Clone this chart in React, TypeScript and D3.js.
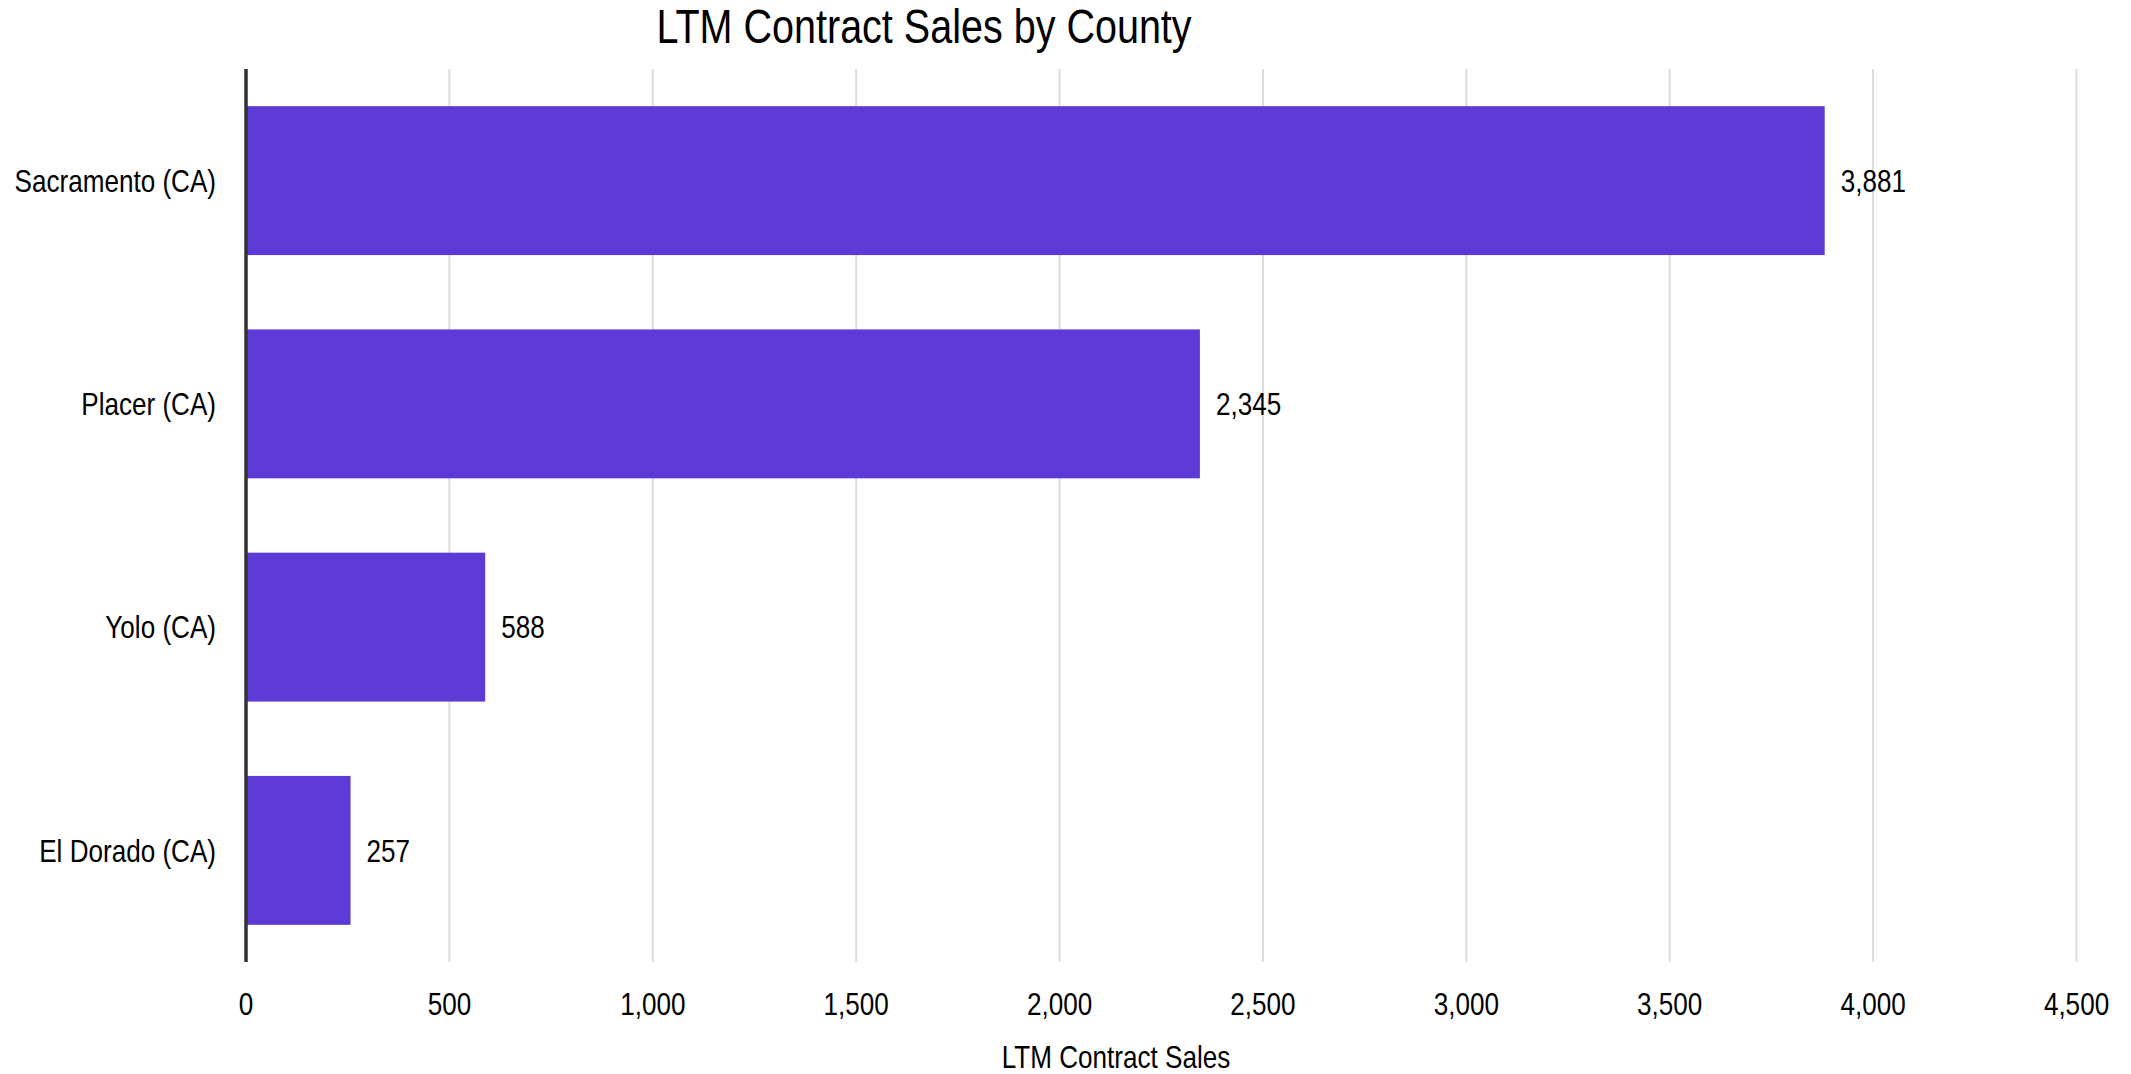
import React from "react";
import * as d3 from "d3";

const counties = ["Sacramento (CA)", "Placer (CA)", "Yolo (CA)", "El Dorado (CA)"];
const sales = [3881, 2345, 588, 257];
const xTicks = [0, 500, 1000, 1500, 2000, 2500, 3000, 3500, 4000, 4500];
const title = "LTM Contract Sales by County";
const xTitle = "LTM Contract Sales";

const W = 2131;
const H = 1074;
const FONT = "'Liberation Sans', Arial, sans-serif";
const NARROW = 0.815;

function T(props: {
  x: number;
  y: number;
  size: number;
  anchor?: "start" | "middle" | "end";
  dy?: string;
  children: React.ReactNode;
}) {
  const { x, y, size, anchor = "start", dy, children } = props;
  return (
    <g transform={`translate(${x},${y}) scale(${NARROW},1)`}>
      <text x={0} y={0} dy={dy} fontSize={size} textAnchor={anchor} fill="#000" fontFamily={FONT}>
        {children}
      </text>
    </g>
  );
}

export default function App() {
  const x = d3.scaleLinear().domain([0, 4500]).range([246, 2076.5]);
  const y = d3
    .scaleBand<string>()
    .domain(counties)
    .range([69, 962])
    .paddingInner(0.333)
    .paddingOuter(0.1665);
  const fmt = d3.format(",");
  const data = counties.map((c, i) => ({ c, v: sales[i] }));

  return (
    <svg
      width={W}
      height={H}
      style={{ position: "absolute", left: 0, top: 0, display: "block", background: "#fff" }}
      fontFamily={FONT}
    >
      {xTicks.map((t) => (
        <line
          key={"g" + t}
          x1={x(t)}
          x2={x(t)}
          y1={69}
          y2={962}
          stroke="#dddddd"
          strokeWidth={2}
        />
      ))}
      {data.map((d) => (
        <rect
          key={d.c}
          x={x(0)}
          y={y(d.c)}
          width={x(d.v) - x(0)}
          height={y.bandwidth()}
          fill="#5d3ad6"
        />
      ))}
      <line x1={x(0)} x2={x(0)} y1={69} y2={962} stroke="#333333" strokeWidth={3.5} />
      {data.map((d) => (
        <T
          key={"v" + d.c}
          x={x(d.v) + 16}
          y={(y(d.c) as number) + y.bandwidth() / 2}
          dy="0.35em"
          size={32}
        >
          {fmt(d.v)}
        </T>
      ))}
      {data.map((d) => (
        <T
          key={"l" + d.c}
          x={216}
          y={(y(d.c) as number) + y.bandwidth() / 2}
          dy="0.35em"
          size={32}
          anchor="end"
        >
          {d.c}
        </T>
      ))}
      {xTicks.map((t) => (
        <T key={"t" + t} x={x(t)} y={1015} size={32} anchor="middle">
          {fmt(t)}
        </T>
      ))}
      <T x={1116} y={1068} size={32} anchor="middle">
        {xTitle}
      </T>
      <T x={924} y={43} size={48.5} anchor="middle">
        {title}
      </T>
    </svg>
  );
}
